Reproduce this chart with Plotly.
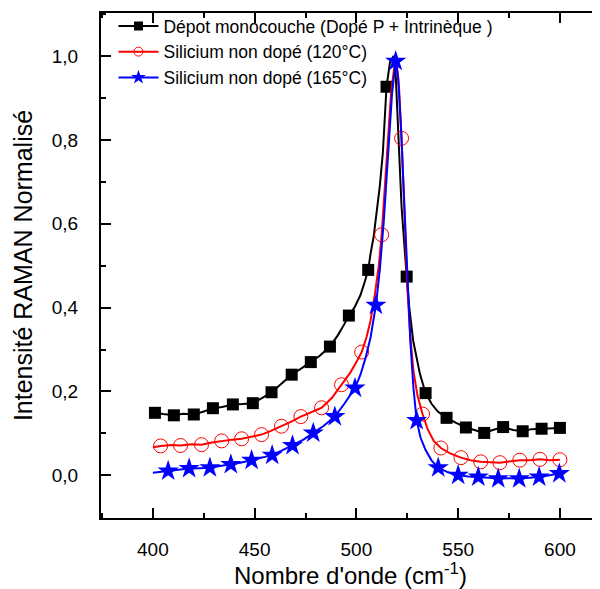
import plotly.graph_objects as go

# ---- data ----
black_x = [400, 401, 405, 410.3, 415, 420.1, 425, 429.5, 434, 439.3, 444, 449.1, 454, 458.3, 463, 468.2, 473,
           477.6, 482, 487, 491, 494, 496.3, 499, 502, 504, 505.8, 507, 508.5, 510, 511.5, 513, 514.8, 516.5,
           518, 519, 520.5, 522.2, 524.7, 526, 527.9, 530, 531.2, 534, 537, 540, 544.3, 549, 553.8, 558, 562.8,
           567, 572.1, 577, 581.7, 586, 591, 595, 600]
black_y = [0.152, 0.149, 0.146, 0.143, 0.147, 0.145, 0.152, 0.160, 0.163, 0.169, 0.170, 0.172, 0.185, 0.198,
           0.218, 0.240, 0.255, 0.270, 0.285, 0.307, 0.335, 0.360, 0.381, 0.400, 0.430, 0.460, 0.490, 0.530,
           0.570, 0.630, 0.690, 0.770, 0.927, 0.985, 0.998, 0.990, 0.840, 0.640, 0.474, 0.400, 0.321, 0.265,
           0.242, 0.196, 0.170, 0.152, 0.137, 0.125, 0.114, 0.108, 0.101, 0.108, 0.115, 0.108, 0.105, 0.110,
           0.111, 0.112, 0.113]
black_mx = [401, 410.3, 420.1, 429.5, 439.3, 449.1, 458.3, 468.2, 477.6, 487, 496.3, 505.8, 514.8, 524.7,
            534, 544.3, 553.8, 562.8, 572.1, 581.7, 591, 600]
black_my = [0.149, 0.143, 0.145, 0.160, 0.169, 0.172, 0.198, 0.240, 0.270, 0.307, 0.381, 0.490, 0.927, 0.474,
            0.196, 0.137, 0.114, 0.101, 0.115, 0.105, 0.111, 0.113]

red_x = [400, 403.8, 409, 413.6, 419, 423.9, 429, 433.8, 439, 443.6, 448, 453.4, 458, 463.2, 468, 472.7, 478,
         482.9, 488, 492.7, 497, 500, 502.6, 505, 507, 509, 511, 512.4, 514, 515.5, 517, 518.5, 519.8, 521,
         522.2, 523.5, 525, 526.5, 528, 530, 532.5, 535, 538, 541.5, 546, 551.4, 556, 561.1, 566, 570.5, 575,
         580.3, 585, 590.2, 595, 600]
red_y = [0.067, 0.070, 0.072, 0.071, 0.074, 0.073, 0.078, 0.082, 0.085, 0.087, 0.092, 0.097, 0.106, 0.117,
         0.128, 0.140, 0.150, 0.161, 0.185, 0.216, 0.245, 0.270, 0.294, 0.330, 0.370, 0.430, 0.500, 0.574,
         0.680, 0.800, 0.910, 0.970, 0.985, 0.920, 0.804, 0.620, 0.450, 0.330, 0.250, 0.190, 0.146, 0.110,
         0.082, 0.065, 0.052, 0.042, 0.036, 0.032, 0.031, 0.030, 0.033, 0.036, 0.036, 0.038, 0.036, 0.037]
red_mx = [403.8, 413.6, 423.9, 433.8, 443.6, 453.4, 463.2, 472.7, 482.9, 492.7, 502.6, 512.4, 522.2, 532.5,
          541.5, 551.4, 561.1, 570.5, 580.3, 590.2, 600]
red_my = [0.070, 0.071, 0.073, 0.082, 0.087, 0.097, 0.117, 0.140, 0.161, 0.216, 0.294, 0.574, 0.804, 0.146,
          0.065, 0.042, 0.032, 0.030, 0.036, 0.038, 0.037]

blue_x = [400, 407.5, 412, 417.8, 423, 428, 433, 438.3, 443, 448.5, 453, 458.6, 463, 468.6, 474, 478.8, 484,
          489.4, 494, 499.3, 502, 504.5, 507, 509.6, 511.5, 513.5, 515.5, 517.5, 519.3, 520.5, 522, 523.5, 525,
          526.5, 528, 529.6, 531.5, 534, 537, 540.2, 545, 550, 555, 559.9, 565, 569.7, 575, 580, 585, 589.8,
          595, 599.7]
blue_y = [0.006, 0.010, 0.013, 0.016, 0.017, 0.018, 0.022, 0.026, 0.030, 0.036, 0.041, 0.048, 0.058, 0.071,
          0.085, 0.101, 0.118, 0.140, 0.170, 0.208, 0.240, 0.280, 0.330, 0.406, 0.490, 0.610, 0.760, 0.910,
          0.988, 0.950, 0.820, 0.640, 0.460, 0.320, 0.210, 0.131, 0.090, 0.060, 0.035, 0.018, 0.007, 0.000,
          -0.003, -0.004, -0.006, -0.008, -0.007, -0.008, -0.006, -0.004, 0.000, 0.004]
blue_mx = [407.5, 417.8, 428, 438.3, 448.5, 458.6, 468.6, 478.8, 489.4, 499.3, 509.6, 519.3, 529.6, 540.2,
           550, 559.9, 569.7, 580, 589.8, 599.7]
blue_my = [0.010, 0.016, 0.018, 0.026, 0.036, 0.048, 0.071, 0.101, 0.140, 0.208, 0.406, 0.988, 0.131, 0.018,
           0.000, -0.004, -0.008, -0.008, -0.004, 0.004]

names = ["Dépot monocouche (Dopé P + Intrinèque )",
         "Silicium non dopé (120°C)",
         "Silicium non dopé (165°C)"]

x_ticks = [400, 450, 500, 550, 600]
y_ticks = [0.0, 0.2, 0.4, 0.6, 0.8, 1.0]

FONT = "Arial, 'Liberation Sans', sans-serif"

fig = go.Figure()

series = [
    (black_x, black_y, black_mx, black_my, "black", "square", 12, None),
    (red_x, red_y, red_mx, red_my, "red", "circle-open", 14, 1),
    (blue_x, blue_y, blue_mx, blue_my, "blue", "star", 16, None),
]
for i, (lx, ly, mx, my, col, sym, sz, lw) in enumerate(series):
    fig.add_trace(go.Scatter(x=lx, y=ly, mode="lines", line=dict(color=col, width=2),
                             showlegend=False, hoverinfo="skip"))
    mk = dict(color=col, symbol=sym, size=sz)
    if lw:
        mk["line"] = dict(color=col, width=lw)
    else:
        mk["line"] = dict(width=0)
    fig.add_trace(go.Scatter(x=mx, y=my, mode="markers", marker=mk, showlegend=False))
    lmk = dict(color=col, symbol=sym, size=9 if sym != "star" else 11)
    if lw:
        lmk["line"] = dict(color=col, width=1)
    fig.add_trace(go.Scatter(x=[None], y=[None], mode="lines+markers", name=names[i],
                             line=dict(color=col, width=2), marker=lmk))

# page body has an 8px margin: figure is 592x581 so it ends at the window edge
fig.update_layout(
    width=592, height=581,
    margin=dict(l=93, r=0, t=4, b=71),
    paper_bgcolor="white", plot_bgcolor="white",
    font=dict(family=FONT, color="black", size=17),
    legend=dict(x=0.025, y=1.01, xanchor="left", yanchor="top",
                bgcolor="rgba(0,0,0,0)", font=dict(size=17.5, family=FONT),
                tracegroupgap=0, itemwidth=40),
)
fig.update_xaxes(
    range=[374.5, 619.7], tickvals=x_ticks, ticktext=[str(v) for v in x_ticks],
    ticks="inside", ticklen=10, tickwidth=1.5, tickcolor="black",
    minor=dict(dtick=25, tick0=375, ticks="inside", ticklen=5, tickcolor="black", tickwidth=1.5),
    showline=True, linecolor="black", linewidth=2, mirror="ticks",
    showgrid=False, zeroline=False,
    tickfont=dict(size=19), ticklabelstandoff=13,
    title=dict(text="Nombre d'onde (cm<sup>-1</sup>)", font=dict(size=24), standoff=6),
)
fig.update_yaxes(
    range=[-0.102, 1.103], tickvals=y_ticks, ticktext=[f"{v:.1f}".replace(".", ",") for v in y_ticks],
    ticks="inside", ticklen=10, tickwidth=1.5, tickcolor="black",
    minor=dict(dtick=0.1, tick0=0, ticks="inside", ticklen=5, tickcolor="black", tickwidth=1.5),
    showline=True, linecolor="black", linewidth=2, mirror=False,
    showgrid=False, zeroline=False,
    tickfont=dict(size=19), ticklabelstandoff=17,
    title=dict(text="Intensité RAMAN Normalisé", font=dict(size=25), standoff=12),
)

fig.write_html("out.html")
